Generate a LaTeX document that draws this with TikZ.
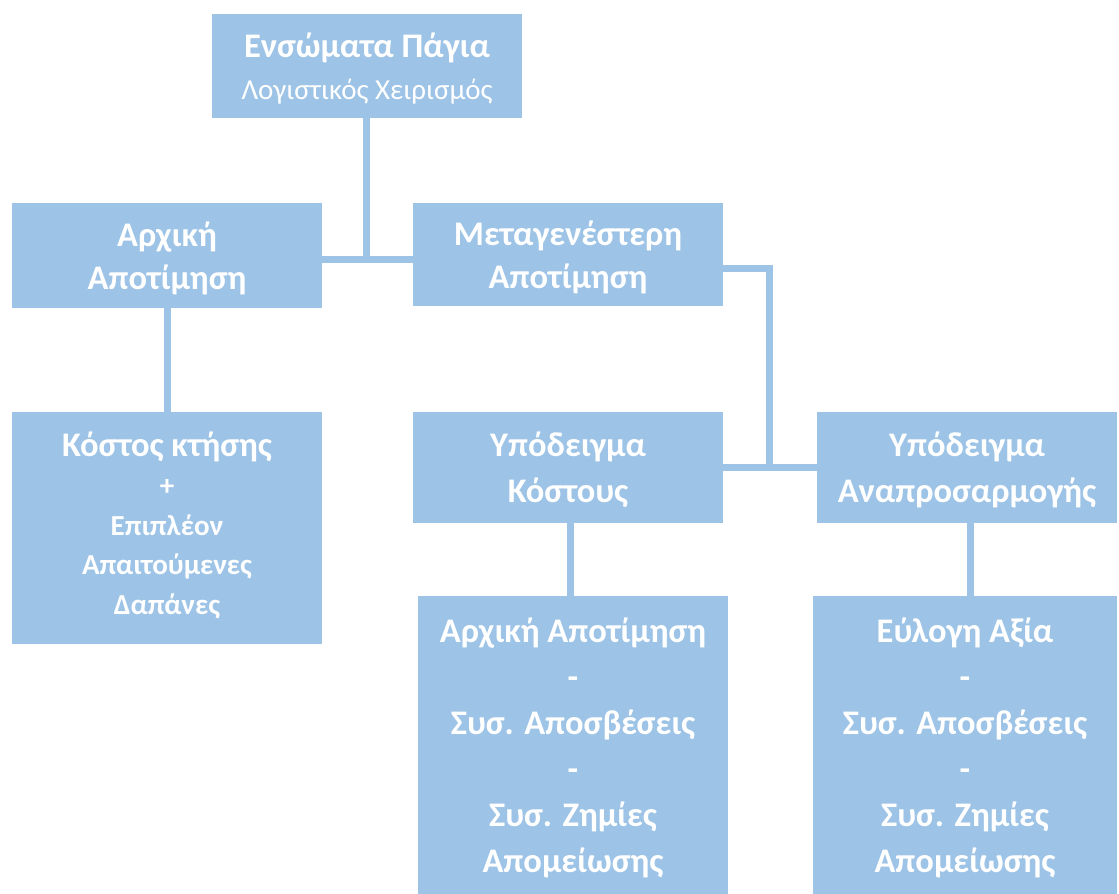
\documentclass[tikz,border=0pt]{standalone}
\usepackage{fontspec}
\setmainfont{Carlito}
\usetikzlibrary{positioning}
\definecolor{boxblue}{HTML}{9DC3E6}

\begin{document}
\begin{tikzpicture}[
x=1pt,y=-1pt,
box/.style={fill=boxblue,text=white,align=center,inner sep=0pt,text depth=0pt,minimum width=310pt,font=\fontsize{34.5}{46}\selectfont\bfseries},
link/.style={draw=boxblue,line width=7pt}]
\useasboundingbox (0,0) rectangle (1119,894);
\node[box,minimum height=104pt,font=\fontsize{29}{42}\selectfont] (title) at (367,66) {{\fontsize{34.5}{42}\selectfont\bfseries Ενσώματα Πάγια}\\Λογιστικός Χειρισμός};
\node[box,minimum height=105pt,font=\fontsize{34.5}{43}\selectfont\bfseries] (initial) at (167,255.5) {Αρχική\\Αποτίμηση};
\node[box,minimum height=103pt,font=\fontsize{34.5}{43}\selectfont\bfseries] (later) at (568,254.5) {Μεταγενέστερη\\Αποτίμηση};
\node[box,minimum height=232pt,text depth=10pt,font=\fontsize{29}{39.5}\selectfont\bfseries] (acq) at (167,528) {{\fontsize{34.5}{39.5}\selectfont Κόστος κτήσης}\\+\\Επιπλέον\\Απαιτούμενες\\Δαπάνες};
\node[box,minimum height=111pt] (costmod) at (568,467.5) {Υπόδειγμα\\Κόστους};
\node[box,minimum height=111pt,minimum width=300pt] (revmod) at (967,467.5) {Υπόδειγμα\\Αναπροσαρμογής};
\node[box,minimum height=298pt] (costform) at (573,745) {Αρχική Αποτίμηση\\-\\Συσ. Αποσβέσεις\\-\\Συσ. Ζημίες\\Απομείωσης};
\node[box,minimum height=298pt,minimum width=304pt] (fairform) at (965,745) {Εύλογη Αξία\\-\\Συσ. Αποσβέσεις\\-\\Συσ. Ζημίες\\Απομείωσης};
% connectors
\coordinate (top joint) at (366,259.5);
\coordinate (side joint) at (769,467.5);
\draw[link] (title.south -| top joint) -- (top joint);
\draw[link] (initial.east |- top joint) -- (later.west |- top joint);
\draw[link] ([yshift=-13.5pt]later.east) -| (side joint);
\draw[link] (costmod.east) -- (revmod.west);
\draw[link] (initial.south) -- (initial.south |- acq.north);
\draw[link] ([xshift=2pt]costmod.south) -- ([xshift=2pt]costmod.south |- costform.north);
\draw[link] ([xshift=3pt]revmod.south) -- ([xshift=3pt]revmod.south |- fairform.north);
\end{tikzpicture}
\end{document}
